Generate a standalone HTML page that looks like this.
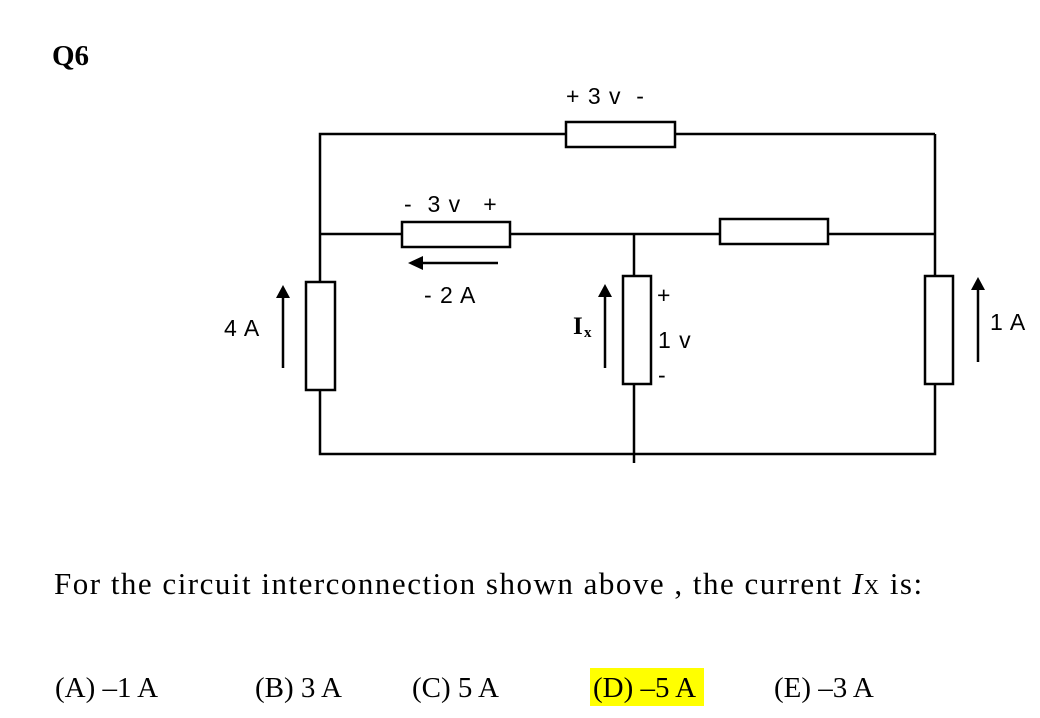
<!DOCTYPE html>
<html><head><meta charset="utf-8"><style>
body{margin:0;background:#fff;width:1040px;height:718px;overflow:hidden;position:relative}
.s{position:absolute;font-family:"Liberation Serif",serif;color:#000;white-space:nowrap}
svg text{white-space:pre}
</style></head><body>
<svg width="1040" height="718" style="position:absolute;left:0;top:0">
<g stroke="#000" stroke-width="2.5" fill="none">
<polyline points="566,134 320,134 320,282"/>
<line x1="675" y1="134" x2="935" y2="134"/>
<line x1="935" y1="134" x2="935" y2="277"/>
<line x1="320" y1="234" x2="402" y2="234"/>
<line x1="510" y1="234" x2="720" y2="234"/>
<line x1="828" y1="234" x2="935" y2="234"/>
<polyline points="320,390 320,454 935,454 935,384"/>
<line x1="634" y1="234" x2="634" y2="276"/>
<line x1="634" y1="384" x2="634" y2="463"/>
<rect x="566" y="122" width="109" height="25" fill="#fff"/>
<rect x="402" y="222" width="108" height="25" fill="#fff"/>
<rect x="720" y="219" width="108" height="25" fill="#fff"/>
<rect x="306" y="282" width="29" height="108" fill="#fff"/>
<rect x="623" y="276" width="28" height="108" fill="#fff"/>
<rect x="925" y="276" width="28" height="108" fill="#fff"/>
<line x1="498" y1="263" x2="420" y2="263"/>
<line x1="283" y1="368" x2="283" y2="296"/>
<line x1="605" y1="368" x2="605" y2="296"/>
<line x1="978" y1="362" x2="978" y2="290"/>
</g>
<g fill="#000">
<polygon points="408,263 423,256 423,270"/>
<polygon points="283,285 276,298 290,298"/>
<polygon points="605,284 598,297 612,297"/>
<polygon points="978,277 971,290 985,290"/>
</g>
<g font-family="Liberation Sans,sans-serif" font-size="23" fill="#000" letter-spacing="1" xml:space="preserve">
<text x="566" y="104">+ 3 v  -</text>
<text x="404" y="212">-  3 v   +</text>
<text x="424" y="303">- 2 A</text>
<text x="224" y="336">4 A</text>
<text x="990" y="330">1 A</text>
<text x="658" y="348">1 v</text>
<text x="657" y="303">+</text>
<text x="658" y="383">-</text>
</g>
<text x="573" y="334" font-family="Liberation Serif,serif" font-weight="bold" font-size="25">I</text>
<text x="584" y="337" font-family="Liberation Serif,serif" font-weight="bold" font-size="15">x</text>
</svg>
<div class="s" style="left:52px;top:40px;font-size:29px;font-weight:bold">Q6</div>
<div class="s" style="left:54px;top:566px;font-size:31px;letter-spacing:1.5px">For the circuit interconnection shown above , the current <i>I</i><span style="font-size:21px">X</span> is:</div>
<div style="position:absolute;left:590px;top:668px;width:114px;height:38px;background:#ffff00"></div>
<div class="s" style="left:55px;top:672px;font-size:29px">(A) –1 A</div>
<div class="s" style="left:255px;top:672px;font-size:29px">(B) 3 A</div>
<div class="s" style="left:412px;top:672px;font-size:29px">(C) 5 A</div>
<div class="s" style="left:593px;top:672px;font-size:29px">(D) –5 A</div>
<div class="s" style="left:774px;top:672px;font-size:29px">(E) –3 A</div>
</body></html>
